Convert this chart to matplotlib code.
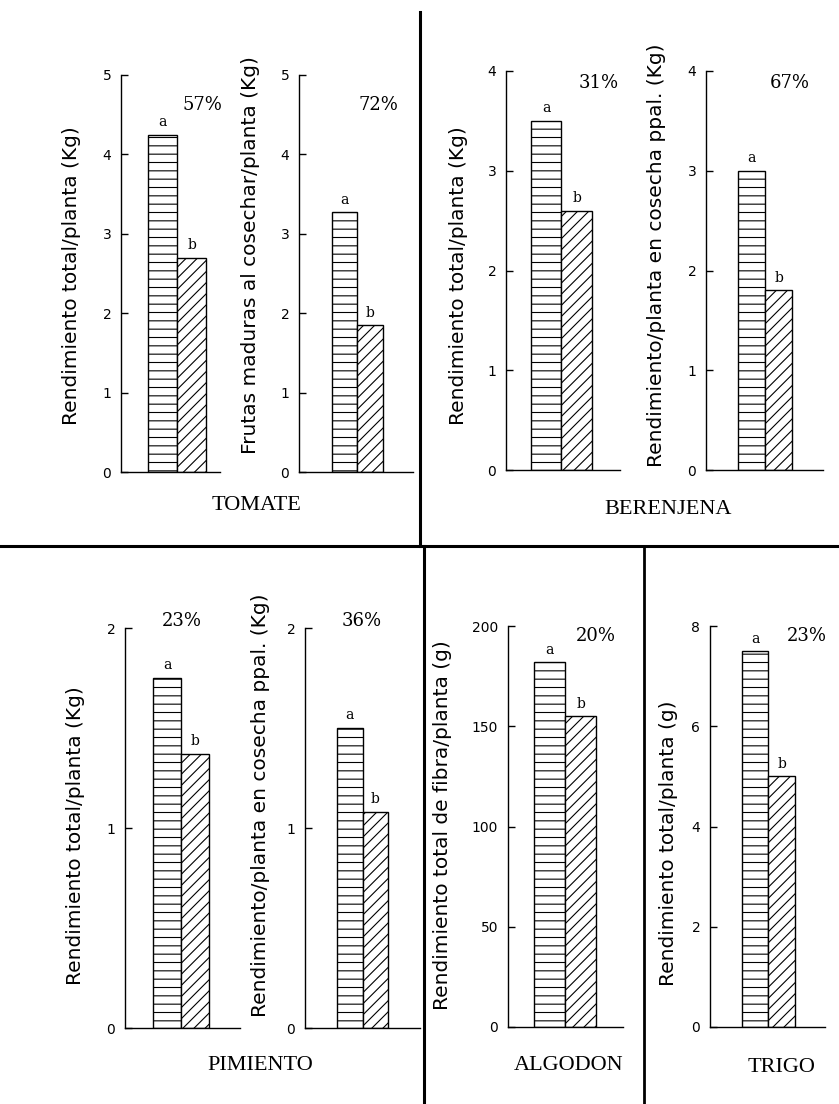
import matplotlib
matplotlib.use("Agg")
import matplotlib.pyplot as plt

W, H = 839, 1104

# datos (a = testigo, b = tratamiento)
cultivos = ["TOMATE", "BERENJENA", "PIMIENTO", "ALGODON", "TRIGO"]
ylabels = [
    "Rendimiento total/planta (Kg)",
    "Frutas maduras al cosechar/planta (Kg)",
    "Rendimiento total/planta (Kg)",
    "Rendimiento/planta en cosecha ppal. (Kg)",
    "Rendimiento total/planta (Kg)",
    "Rendimiento/planta en cosecha ppal. (Kg)",
    "Rendimiento total de fibra/planta (g)",
    "Rendimiento total/planta (g)",
]
valores_a = [4.25, 3.27, 3.5, 3.0, 1.75, 1.5, 182, 7.5]
valores_b = [2.7, 1.85, 2.6, 1.8, 1.37, 1.08, 155, 5.0]
porcentajes = ["57%", "72%", "31%", "67%", "23%", "36%", "20%", "23%"]
ymax = [5, 5, 4, 4, 2, 2, 200, 8]
yticks = [[0, 1, 2, 3, 4, 5], [0, 1, 2, 3, 4, 5], [0, 1, 2, 3, 4], [0, 1, 2, 3, 4],
          [0, 1, 2], [0, 1, 2], [0, 50, 100, 150, 200], [0, 2, 4, 6, 8]]
letras = ["a", "b"]

# posiciones en pixeles: (izq, arriba, der, abajo), xlim, etiqueta y, porcentaje
cajas = [(121, 75, 220, 472), (299, 75, 413, 472), (506, 71, 620, 470), (706, 71, 823, 470),
         (125, 628, 240, 1028), (305, 628, 420, 1028), (508, 626, 623, 1027), (710, 626, 825, 1027)]
xlims = [(-1.43, 1.98), (-1.79, 2.68), (-1.32, 2.42), (-1.69, 2.65),
         (-1.5, 2.6), (-1.75, 2.75), (-1.34, 2.37), (-1.7, 2.63)]
ylabel_pos = [(72, 276), (250, 255), (458, 276), (656, 255),
              (76, 836), (260, 805), (442, 825), (668, 843)]
pct_pos = [(202, 105), (378, 105), (599, 83), (790, 83),
           (182, 621), (362, 621), (596, 636), (807, 636)]
cultivo_pos = [(257, 506), (668, 509), (260, 1066), (569, 1066), (782, 1068)]

plt.rcParams["hatch.linewidth"] = 0.8

fig = plt.figure(figsize=(W / 100, H / 100), dpi=100)


def fx(x):
    return x / W


def fy(y):
    return 1 - y / H


for i in range(8):
    l, t, r, b = cajas[i]
    ax = fig.add_axes([fx(l), fy(b), (r - l) / W, (b - t) / H])
    bars = ax.bar([0, 1], [valores_a[i], valores_b[i]], width=1.0,
                  color="white", edgecolor="black", linewidth=1.0)
    bars[0].set_hatch("--")
    bars[1].set_hatch("///")
    for j, rect in enumerate(bars):
        ax.annotate(letras[j], (rect.get_x() + rect.get_width() / 2, rect.get_height()),
                    xytext=(0, 4), textcoords="offset points", ha="center", va="bottom",
                    fontsize=10, family="DejaVu Serif")
    ax.set_xlim(*xlims[i])
    ax.set_ylim(0, ymax[i])
    ax.set_yticks(yticks[i])
    ax.set_xticks([])
    ax.tick_params(axis="y", direction="in", length=5, width=1, labelsize=10, pad=7)
    for s in ["top", "right"]:
        ax.spines[s].set_visible(False)
    ax.spines["left"].set_linewidth(1.0)
    ax.spines["bottom"].set_linewidth(1.0)
    ax.patch.set_alpha(0)

    x, y = ylabel_pos[i]
    fig.text(fx(x), fy(y), ylabels[i], rotation=90, ha="center", va="center", fontsize=14.5)
    x, y = pct_pos[i]
    fig.text(fx(x), fy(y), porcentajes[i], ha="center", va="center", fontsize=13,
             family="DejaVu Serif")

for nombre, (x, y) in zip(cultivos, cultivo_pos):
    fig.text(fx(x), fy(y), nombre, ha="center", va="center", fontsize=16,
             family="Liberation Serif")

# lineas divisorias
lineas = fig.add_axes([0, 0, 1, 1])
lineas.set_xlim(0, W)
lineas.set_ylim(H, 0)
lineas.axis("off")
lineas.patch.set_alpha(0)
lineas.plot([420, 420], [12, 546], color="black", lw=2.2)
lineas.plot([424, 424], [546, H], color="black", lw=2.2)
lineas.plot([0, W], [546, 546], color="black", lw=2.2)
lineas.plot([644, 644], [546, H], color="black", lw=2.0)

fig.savefig("out.png", dpi=100)
